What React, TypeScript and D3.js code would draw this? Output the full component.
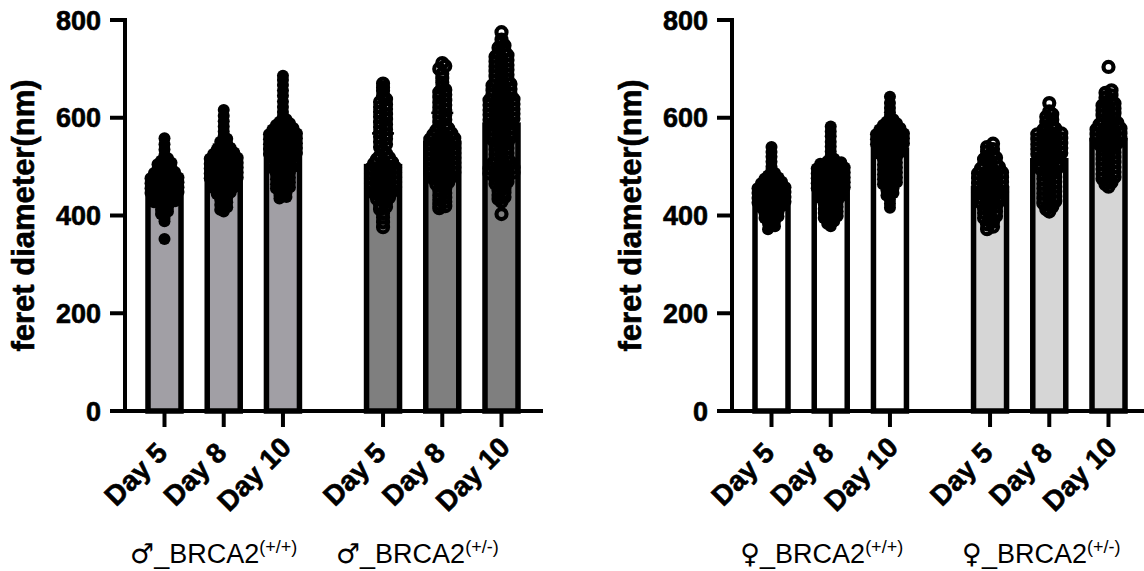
import React from "react";
import * as d3 from "d3";

// ---- categories & ticks ----
const dayLabels = ["Day 5", "Day 8", "Day 10"];
const yTickValues = [0, 200, 400, 600, 800];
const maleSymbol = "♂";
const femaleSymbol = "♀";
const geneName = "_BRCA2";
const genotypes = ["(+/+)", "(+/-)"];

// ---- bar means (nm) ----
const maleWtMean = [462, 505, 535];
const maleHetMean = [500, 548, 585];
const femaleWtMean = [445, 485, 534];
const femaleHetMean = [455, 512, 553];

// ---- standard deviations (nm) ----
const maleWtSD = [38, 40, 48];
const maleHetSD = [68, 62, 75];
const femaleWtSD = [28, 25, 35];
const femaleHetSD = [35, 42, 40];

// ---- individual feret diameters (nm) ----
const maleWtDay5 = [352, 388, 395, 403, 408, 412, 417, 421, 424, 427, 429, 431, 433, 436, 438, 440, 442, 444, 446, 448, 450, 452, 454, 456, 458, 460, 462, 464, 466, 468, 470, 472, 474, 476, 478, 481, 484, 487, 489, 491, 494, 497, 501, 505, 508, 512, 517, 524, 535, 546, 558];
const maleWtDay8 = [408, 412, 417, 422, 427, 432, 437, 441, 444, 447, 450, 453, 456, 458, 460, 463, 465, 468, 470, 472, 474, 476, 478, 480, 482, 484, 486, 488, 490, 492, 494, 496, 498, 500, 502, 504, 506, 508, 510, 512, 514, 516, 518, 520, 523, 526, 529, 531, 535, 538, 542, 547, 551, 557, 563, 572, 582, 593, 604, 616];
const maleWtDay10 = [435, 438, 442, 446, 451, 455, 458, 461, 464, 468, 471, 474, 477, 481, 484, 487, 490, 493, 496, 499, 501, 504, 507, 510, 513, 516, 519, 520, 522, 524, 526, 528, 530, 532, 534, 536, 538, 540, 542, 544, 546, 548, 550, 552, 554, 556, 558, 560, 562, 564, 566, 568, 570, 573, 576, 579, 581, 585, 589, 592, 597, 603, 612, 622, 633, 645, 656, 667, 677, 686];
const maleHetDay5 = [376, 386, 396, 405, 413, 418, 422, 427, 431, 434, 437, 440, 443, 446, 449, 450, 452, 454, 456, 458, 460, 462, 464, 466, 468, 470, 472, 474, 476, 478, 480, 482, 484, 486, 488, 490, 492, 494, 496, 498, 500, 503, 506, 509, 511, 515, 518, 522, 527, 533, 540, 546, 551, 557, 561, 566, 571, 576, 581, 586, 591, 597, 602, 607, 612, 618, 622, 627, 632, 638, 645, 655, 662, 670];
const maleHetDay8 = [415, 419, 423, 428, 432, 437, 441, 446, 451, 456, 460, 464, 468, 470, 473, 476, 479, 480, 482, 484, 486, 488, 490, 492, 494, 496, 498, 500, 502, 504, 506, 508, 510, 512, 514, 516, 518, 520, 522, 524, 526, 528, 530, 532, 534, 536, 538, 540, 542, 544, 546, 548, 550, 552, 554, 556, 558, 560, 562, 565, 568, 570, 574, 578, 581, 586, 591, 596, 601, 606, 611, 616, 621, 626, 631, 636, 642, 647, 652, 657, 663, 672, 681, 690, 700, 706, 712];
const maleHetDay10 = [403, 428, 434, 438, 442, 447, 451, 456, 460, 465, 469, 471, 474, 477, 480, 482, 484, 486, 488, 490, 492, 494, 496, 498, 500, 503, 506, 509, 511, 515, 518, 521, 525, 528, 531, 535, 538, 541, 545, 548, 550, 553, 556, 559, 560, 563, 566, 569, 570, 573, 576, 579, 580, 583, 586, 589, 590, 592, 594, 596, 598, 600, 602, 604, 606, 608, 610, 612, 614, 616, 618, 620, 622, 624, 626, 628, 630, 632, 634, 636, 638, 640, 643, 646, 649, 650, 653, 656, 659, 660, 663, 666, 669, 671, 675, 678, 681, 685, 688, 691, 695, 698, 701, 705, 708, 711, 715, 718, 721, 725, 728, 732, 737, 743, 748, 753, 760, 775];
const femaleWtDay5 = [372, 378, 383, 388, 391, 395, 398, 401, 404, 407, 410, 413, 416, 419, 420, 422, 424, 426, 428, 430, 432, 434, 436, 438, 440, 442, 444, 446, 448, 450, 452, 454, 456, 458, 460, 463, 466, 469, 471, 475, 478, 482, 487, 493, 500, 510, 520, 530, 540];
const femaleWtDay8 = [378, 383, 388, 391, 395, 399, 401, 405, 408, 411, 414, 418, 421, 424, 427, 430, 433, 436, 439, 440, 443, 446, 449, 450, 452, 454, 456, 458, 460, 462, 464, 466, 468, 470, 472, 474, 476, 478, 480, 482, 484, 486, 488, 490, 492, 494, 496, 498, 500, 503, 506, 509, 511, 516, 522, 531, 541, 551, 562, 572, 582];
const femaleWtDay10 = [416, 424, 432, 441, 446, 451, 456, 460, 464, 468, 470, 474, 478, 480, 484, 488, 490, 494, 498, 500, 504, 508, 510, 514, 518, 520, 523, 526, 529, 530, 533, 536, 539, 540, 542, 544, 546, 548, 550, 552, 554, 556, 558, 560, 562, 564, 566, 568, 570, 573, 576, 579, 581, 585, 589, 592, 597, 603, 611, 620, 630, 643];
const femaleHetDay5 = [372, 377, 382, 387, 391, 395, 399, 401, 405, 408, 411, 414, 418, 420, 423, 426, 429, 430, 433, 436, 439, 440, 442, 444, 446, 448, 450, 452, 454, 456, 458, 460, 462, 464, 466, 468, 470, 472, 474, 476, 478, 480, 482, 484, 486, 488, 490, 493, 496, 499, 501, 504, 507, 511, 515, 518, 521, 526, 531, 536, 540, 547];
const femaleHetDay8 = [408, 413, 418, 421, 425, 429, 431, 435, 439, 441, 445, 449, 451, 455, 459, 461, 465, 469, 471, 475, 479, 481, 485, 489, 490, 493, 496, 499, 500, 503, 506, 509, 510, 513, 516, 519, 520, 522, 524, 526, 528, 530, 532, 534, 536, 538, 540, 542, 544, 546, 548, 550, 552, 554, 556, 558, 560, 562, 564, 566, 568, 571, 575, 578, 581, 586, 591, 596, 602, 607, 613, 630];
const femaleHetDay10 = [459, 464, 468, 471, 475, 479, 481, 485, 489, 491, 495, 499, 501, 505, 509, 511, 515, 519, 521, 525, 529, 531, 535, 539, 540, 543, 546, 549, 550, 552, 554, 556, 558, 560, 562, 564, 566, 568, 570, 572, 574, 576, 578, 580, 583, 586, 589, 590, 594, 598, 601, 605, 609, 611, 615, 619, 621, 625, 629, 631, 636, 641, 646, 651, 656, 704];

// ---- colours & type ----
const FONT = "'Liberation Sans', Arial, Helvetica, sans-serif";
const SYMBOL_FONT = "'DejaVu Sans', 'Noto Sans', sans-serif";
const maleFills = ["#a19fa5", "#7f7f7f"];
const femaleFills = ["#ffffff", "#d6d6d6"];

type Group = {
  symbol: string;
  sup: string;
  fill: string;
  open: boolean;
  means: number[];
  sds: number[];
  points: number[][];
  labelShift: number;
};

const panels: { axisX: number; groups: Group[] }[] = [
  {
    axisX: 125,
    groups: [
      { symbol: maleSymbol, sup: genotypes[0], fill: maleFills[0], open: false, means: maleWtMean, sds: maleWtSD, points: [maleWtDay5, maleWtDay8, maleWtDay10], labelShift: -10 },
      { symbol: maleSymbol, sup: genotypes[1], fill: maleFills[1], open: true, means: maleHetMean, sds: maleHetSD, points: [maleHetDay5, maleHetDay8, maleHetDay10], labelShift: -25 },
    ],
  },
  {
    axisX: 732,
    groups: [
      { symbol: femaleSymbol, sup: genotypes[0], fill: femaleFills[0], open: false, means: femaleWtMean, sds: femaleWtSD, points: [femaleWtDay5, femaleWtDay8, femaleWtDay10], labelShift: -9 },
      { symbol: femaleSymbol, sup: genotypes[1], fill: femaleFills[1], open: true, means: femaleHetMean, sds: femaleHetSD, points: [femaleHetDay5, femaleHetDay8, femaleHetDay10], labelShift: -8 },
    ],
  },
];

const W = 1144;
const H = 571;
const y = d3.scaleLinear().domain([0, 800]).range([411, 20]);

// column slots: three days per genotype, with a wider gap between genotypes
const slotIndex = [
  [0, 1, 2],
  [3.69, 4.69, 5.69],
];

// Prism-style scatter: values in the same band are spread horizontally in a row
function rowLayout(values: number[], step: number, binUnits = 10, maxHalf = 14) {
  const bins = d3.group(values, (v) => Math.floor(v / binUnits));
  const out: { v: number; dx: number }[] = [];
  for (const [, vs] of bins) {
    const n = vs.length;
    const s = n > 1 ? Math.min(step, (2 * maxHalf) / (n - 1)) : 0;
    const sorted = vs.slice().sort((a, b) => a - b);
    const mid = (n - 1) / 2;
    const slots = d3.range(n).sort((a, b) => Math.abs(a - mid) - Math.abs(b - mid) || a - b);
    sorted.forEach((v, i) => out.push({ v, dx: (slots[i] - mid) * s }));
  }
  return out.sort((a, b) => a.v - b.v);
}

const boldText = {
  fontFamily: FONT,
  fontWeight: "bold" as const,
  stroke: "#000",
  strokeWidth: 0.6,
};

function Panel({ axisX, groups }: { axisX: number; groups: Group[] }) {
  const x = d3.scaleLinear().domain([0, 5.69]).range([axisX + 39.5, axisX + 376.5]);
  const barW = 33;
  const axisEnd = axisX + 418;
  return (
    <g>
      {/* bars */}
      {groups.map((g, gi) =>
        g.means.map((m, di) => {
          const cx = x(slotIndex[gi][di]);
          return (
            <rect
              key={`b${gi}${di}`}
              x={cx - barW / 2}
              y={y(m)}
              width={barW}
              height={y(0) - y(m)}
              fill={g.fill}
              stroke="#000"
              strokeWidth={5.5}
            />
          );
        })
      )}
      {/* upper SD error bars */}
      {groups.map((g, gi) =>
        g.means.map((m, di) => {
          const cx = x(slotIndex[gi][di]);
          const top = y(m + g.sds[di]);
          return (
            <g key={`e${gi}${di}`} stroke="#000" strokeWidth={2.5}>
              <line x1={cx} x2={cx} y1={y(m)} y2={top} />
              <line x1={cx - 11} x2={cx + 11} y1={top} y2={top} />
            </g>
          );
        })
      )}
      {/* individual points */}
      {groups.map((g, gi) =>
        g.points.map((vals, di) => {
          const cx = x(slotIndex[gi][di]);
          return (
            <g key={`p${gi}${di}`}>
              {rowLayout(vals, g.open ? 6 : 7).map((p, i) =>
                g.open ? (
                  <circle key={i} cx={cx + p.dx} cy={y(p.v)} r={5} fill="none" stroke="#000" strokeWidth={4.2} />
                ) : (
                  <circle key={i} cx={cx + p.dx} cy={y(p.v)} r={6} fill="#000" />
                )
              )}
            </g>
          );
        })
      )}
      {/* y axis */}
      <line x1={axisX} x2={axisX} y1={y(800) - 2} y2={y(0) + 2} stroke="#000" strokeWidth={4} />
      {yTickValues.map((t) => (
        <g key={t}>
          <line x1={axisX - 15} x2={axisX} y1={y(t)} y2={y(t)} stroke="#000" strokeWidth={4} />
          <text x={axisX - 24} y={y(t)} dy="0.36em" textAnchor="end" fontSize={27} {...boldText}>
            {t}
          </text>
        </g>
      ))}
      <text
        transform={`translate(${axisX - 91},${(y(0) + y(800)) / 2}) rotate(-90)`}
        textAnchor="middle"
        fontSize={31}
        {...boldText}
      >
        feret diameter(nm)
      </text>
      {/* x axis */}
      <line x1={axisX - 15} x2={axisEnd} y1={y(0)} y2={y(0)} stroke="#000" strokeWidth={4} />
      {groups.map((g, gi) =>
        dayLabels.map((d, di) => {
          const cx = x(slotIndex[gi][di]);
          return (
            <g key={`t${gi}${di}`}>
              <line x1={cx} x2={cx} y1={y(0)} y2={y(0) + 16} stroke="#000" strokeWidth={4} />
              <text
                transform={`translate(${cx - 22},481) rotate(-45)`}
                textAnchor="middle"
                fontSize={28}
                {...boldText}
              >
                {d}
              </text>
            </g>
          );
        })
      )}
      {/* genotype labels */}
      {groups.map((g, gi) => {
        const c = (x(slotIndex[gi][0]) + x(slotIndex[gi][2])) / 2 + g.labelShift;
        return (
          <text key={`g${gi}`} x={c} y={563} textAnchor="middle" fontFamily={FONT} fontSize={27}>
            <tspan fontFamily={SYMBOL_FONT} fontSize={27}>
              {g.symbol}
            </tspan>
            {geneName}
            <tspan fontSize={18} dy={-10}>
              {g.sup}
            </tspan>
          </text>
        );
      })}
    </g>
  );
}

export default function App() {
  return (
    <svg
      width={W}
      height={H}
      viewBox={`0 0 ${W} ${H}`}
      style={{ position: "absolute", left: 0, top: 0, background: "#fff" }}
    >
      <rect width={W} height={H} fill="#fff" />
      {panels.map((p, i) => (
        <Panel key={i} axisX={p.axisX} groups={p.groups} />
      ))}
    </svg>
  );
}
